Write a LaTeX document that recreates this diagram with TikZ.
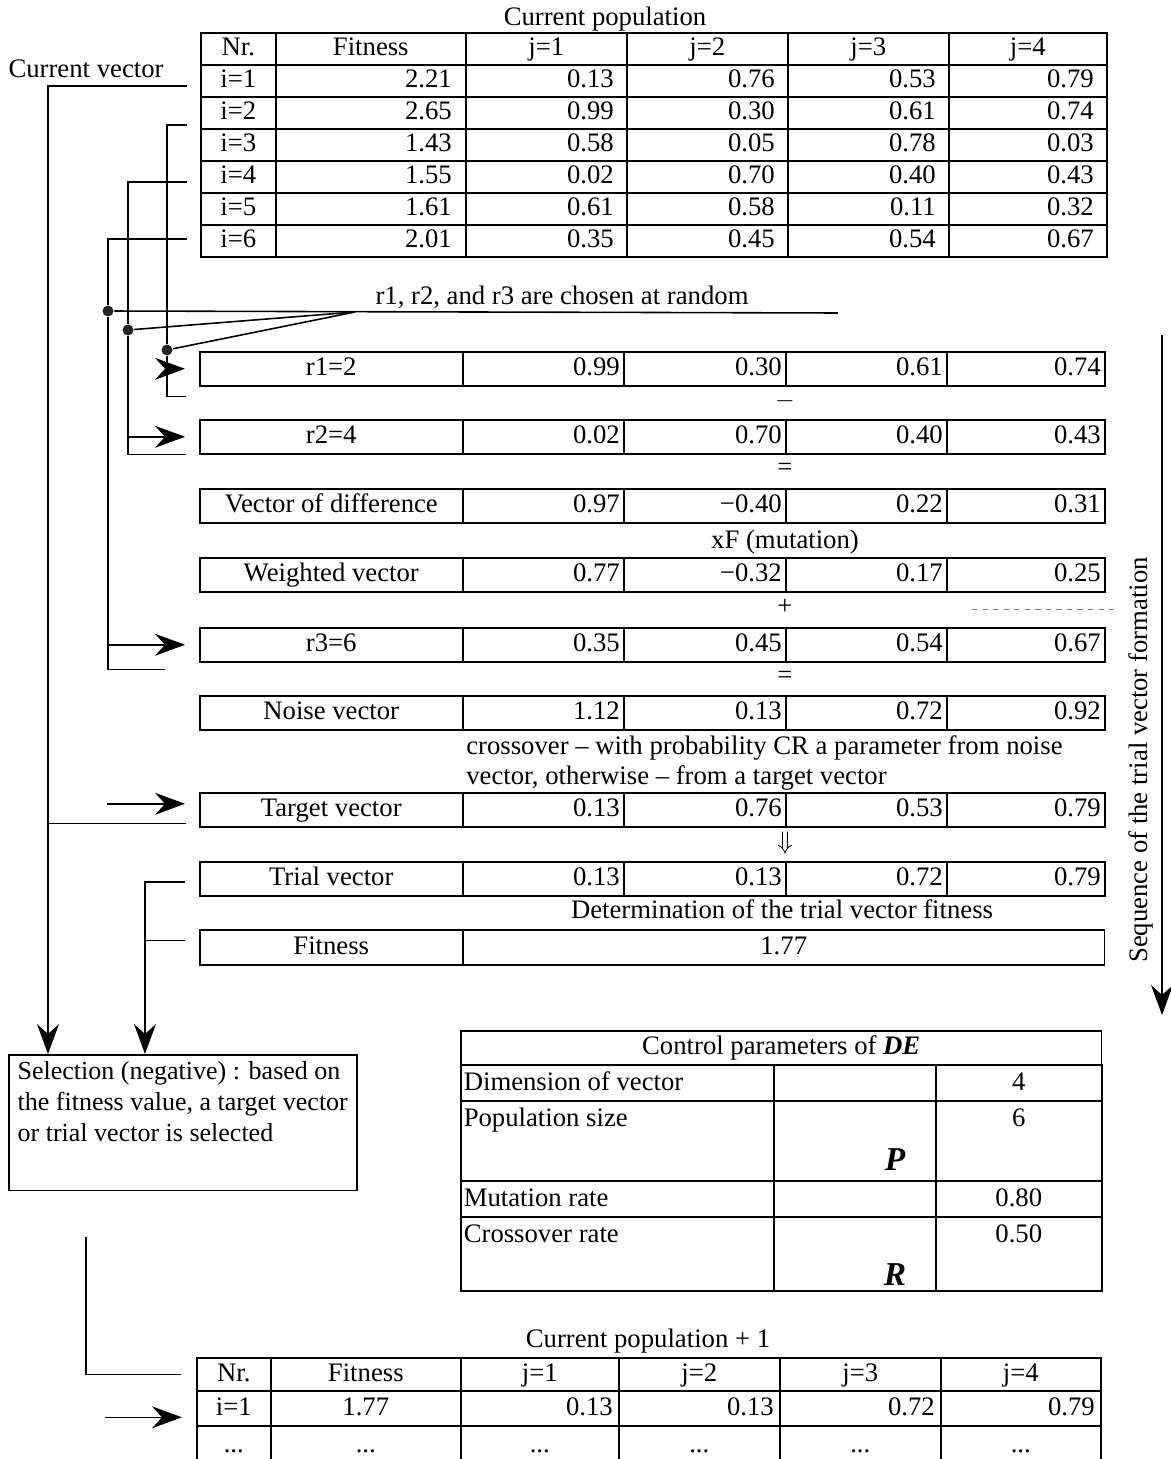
\documentclass[tikz,border=0pt]{standalone}
\usepackage{fontspec}
\setmainfont{Liberation Serif}
\usepackage{tikz}
\usetikzlibrary{arrows.meta, positioning, calc}
\tikzset{
	cell/.style   ={draw, rectangle, anchor=north west, inner xsep=0pt, inner ysep=0pt, text height=10.6pt, text depth=2.6pt},
	numcell/.style={cell, align=right},
	txt/.style    ={inner sep=1pt, text height=10.6pt, text depth=2.6pt},
	wire/.style   ={line width=0.9pt},
	arr/.style    ={wire, -{Stealth[length=0.6cm, width=0.44cm, inset=0.2cm]}},
	dot/.style    ={circle, fill=black!85, inner sep=0pt, minimum size=0.22cm},
	symb/.style   ={inner sep=1pt, font=\fontsize{19}{20}\selectfont\bfseries\itshape},
}
% one row of the trial vector sequence: name, top, label, four values
\newcommand{\vecrow}[7]{%
	\node[cell, minimum width=5.26cm, minimum height=0.68cm] (#1) at (199,#2) {#3};
	\foreach \cv/\xx/\tw [count=\j] in {#4/462/3.06, #5/623/3.08, #6/785/3.06, #7/946/3.00}
		\node[numcell, text width=\tw cm, inner xsep=0.08cm, minimum height=0.68cm] (#1-\j) at (\xx,#2) {\cv};
}

\begin{document}
\begin{tikzpicture}[x=0.02cm, y=-0.02cm, line width=0.9pt, font=\fontsize{15.2}{17.6}\selectfont]
	\useasboundingbox (0,0) rectangle (1170,1459);

	% current population
	\node[txt] (poptitle) at (605,18) {Current population};
	\foreach \t/\xx/\ww [count=\k] in {Nr./200/75, Fitness/275/190, j=1/465/161, j=2/626/161, j=3/787/161, j=4/948/158}
		\node[cell, minimum width=\ww*0.02cm, minimum height=0.64cm] (hd\k) at (\xx,32) {\t};
	\foreach \fv/\ua/\ub/\uc/\ud [count=\i] in {2.21/0.13/0.76/0.53/0.79, 2.65/0.99/0.30/0.61/0.74, 1.43/0.58/0.05/0.78/0.03,
			1.55/0.02/0.70/0.40/0.43, 1.61/0.61/0.58/0.11/0.32, 2.01/0.35/0.45/0.54/0.67}{
		\pgfmathsetmacro\yy{32+32*\i}
		\node[cell, minimum width=1.5cm, minimum height=0.64cm] (n\i) at (200,\yy) {i=\i};
		\node[numcell, text width=3.24cm, inner xsep=0.28cm, minimum height=0.64cm] (f\i) at (275,\yy) {\fv};
		\foreach \cv/\xx/\tw [count=\j] in {\ua/465/2.70, \ub/626/2.70, \uc/787/2.70, \ud/948/2.64}
			\node[numcell, text width=\tw cm, inner xsep=0.26cm, minimum height=0.64cm] (p\i-\j) at (\xx,\yy) {\cv};
	}
	\node[txt, anchor=west] (curvec) at (6,70) {Current vector};

	% random choice
	\node[txt] (rnd) at (562,297) {r1, r2, and r3 are chosen at random};
	\node[dot] (dot1) at (108,311) {};
	\node[dot] (dot2) at (128,330) {};
	\node[dot] (dot3) at (167,350) {};
	\coordinate (fan) at (355,312);
	\coordinate (rndend) at (838,313);
	\draw[wire] (dot1) -- (rndend);
	\draw[wire] (dot2) -- (fan);
	\draw[wire] (dot3) -- (fan);

	% trial vector formation
	\vecrow{r1}{351}{r1=2}{0.99}{0.30}{0.61}{0.74}
	\node[txt] (opminus) at (785,400) {$-$};
	\vecrow{r2}{419}{r2=4}{0.02}{0.70}{0.40}{0.43}
	\node[txt] (opeq1) at (785,468) {=};
	\vecrow{dif}{488}{Vector of difference}{0.97}{−0.40}{0.22}{0.31}
	\node[txt] (opmut) at (785,541) {xF (mutation)};
	\vecrow{wgt}{557}{Weighted vector}{0.77}{−0.32}{0.17}{0.25}
	\node[txt] (opplus) at (785,607) {+};
	\vecrow{r3}{627}{r3=6}{0.35}{0.45}{0.54}{0.67}
	\node[txt] (opeq2) at (785,676) {=};
	\vecrow{noise}{695}{Noise vector}{1.12}{0.13}{0.72}{0.92}
	\node[anchor=west, inner sep=2pt, align=left] (cross) at (462,763)
		{crossover – with probability CR a parameter from noise\\vector, otherwise – from a target vector};
	\vecrow{tgt}{792}{Target vector}{0.13}{0.76}{0.53}{0.79}
	\node[txt] (opdown) at (785,842) {$\Downarrow$};
	\vecrow{trial}{861}{Trial vector}{0.13}{0.13}{0.72}{0.79}
	\node[txt] (detfit) at (782,911) {Determination of the trial vector fitness};
	\node[cell, minimum width=5.26cm, minimum height=0.7cm] (fit) at (199,929) {Fitness};
	\node[cell, minimum width=12.84cm, minimum height=0.7cm] (fitval) at (462,929) {1.77};
	\draw[gray, dashed, line width=0.5pt] (972,609) -- (1117,609);

	% sequence arrow
	\node[txt, rotate=90] (seqtext) at (1140,760) {Sequence of the trial vector formation};
	\coordinate (seqtop) at (1162,335);
	\coordinate (seqend) at (1162,1015);
	\draw[arr] (seqtop) -- (seqend);

	% selection
	\node[draw, anchor=north west, minimum width=6.96cm, inner xsep=0.08cm, inner ysep=0.14cm, align=left, text depth=0.84cm,
		font=\fontsize{14.8}{17.6}\selectfont] (sel) at (8,1054)
		{Selection (negative) : based on\\the fitness value, a target vector\\or trial vector is selected};
	\coordinate (selin1) at ([xshift=0.8cm]sel.north west);
	\coordinate (selin2) at ([xshift=2.74cm]sel.north west);

	% control parameters
	\node[cell, minimum width=12.82cm, minimum height=0.68cm] (cptitle) at (460,1030) {Control parameters of \textbf{\textit{DE}}};
	\foreach \nm/\val/\yy/\hh [count=\k] in {Dimension of vector/4/1064/36, Population size/6/1100/80, Mutation rate/0.80/1180/36, Crossover rate/0.50/1216/74}{
		\node[cell, minimum width=6.26cm, minimum height=\hh*0.02cm] (cpa\k) at (460,\yy) {};
		\node[cell, minimum width=3.24cm, minimum height=\hh*0.02cm] (cpb\k) at (773,\yy) {};
		\node[cell, minimum width=3.32cm, minimum height=\hh*0.02cm] (cpc\k) at (935,\yy) {};
		\node[txt, anchor=north west, inner xsep=0.06cm, inner ysep=0.14cm] (cpn\k) at (cpa\k.north west) {\nm};
		\node[txt, anchor=north, inner ysep=0.14cm] (cpv\k) at (cpc\k.north) {\val};
	}
	\node[symb] (symP) at (895,1160) {P};
	\node[symb] (symR) at (895,1275) {R};

	% current population + 1
	\node[txt] (newtitle) at (648,1340) {Current population + 1};
	\foreach \t/\xx/\ww [count=\k] in {Nr./196/74, Fitness/270/190, j=1/460/158, j=2/618/161, j=3/779/161, j=4/940/160}{
		\node[cell, minimum width=\ww*0.02cm, minimum height=0.66cm] (bh\k) at (\xx,1357) {\t};
		\node[cell, minimum width=\ww*0.02cm, minimum height=0.8cm] (bd\k) at (\xx,1425) {...};
	}
	\node[cell, minimum width=1.48cm, minimum height=0.7cm] (b1) at (196,1390) {i=1};
	\node[cell, minimum width=3.8cm, minimum height=0.7cm] (bf1) at (270,1390) {1.77};
	\foreach \cv/\xx/\tw [count=\j] in {0.13/460/2.92, 0.13/618/2.98, 0.72/779/2.98, 0.79/940/2.96}
		\node[numcell, text width=\tw cm, inner xsep=0.12cm, minimum height=0.7cm] (bp\j) at (\xx,1390) {\cv};

	% connectors
	\draw[arr] ([xshift=-0.26cm,yshift=-0.1cm]n1.west) -| (selin1);
	\draw[wire] ([xshift=-0.26cm,yshift=-0.24cm]n2.west) -| (dot3) |- ([xshift=-0.26cm,yshift=-0.2cm]r1.south west);
	\draw[arr] (dot3 |- r1.west) -- ([xshift=-0.28cm]r1.west);
	\draw[wire] ([xshift=-0.26cm,yshift=-0.1cm]n4.west) -| (dot2) |- ([xshift=-0.26cm]r2.south west);
	\draw[arr] (dot2 |- r2.west) -- ([xshift=-0.28cm]r2.west);
	\draw[wire] ([xshift=-0.26cm,yshift=0.04cm]n6.west) -| (dot1) |- ([xshift=-0.68cm,yshift=-0.14cm]r3.south west);
	\draw[arr] (dot1 |- r3.west) -- ([xshift=-0.28cm]r3.west);
	\coordinate (tgtin) at ([xshift=-1.84cm,yshift=0.12cm]tgt.west);
	\draw[arr] (tgtin) -- ([xshift=-0.28cm,yshift=0.12cm]tgt.west);
	\coordinate (tgtout) at ([xshift=-0.26cm,yshift=0.08cm]tgt.south west);
	\draw[wire] (tgtout) -- (tgtout -| selin1);
	\draw[arr] ([xshift=-0.28cm,yshift=-0.06cm]trial.west) -| (selin2);
	\coordinate (fitout) at ([xshift=-0.28cm,yshift=0.14cm]fit.west);
	\draw[wire] (fitout) -- (fitout -| selin2);
	\coordinate (selout) at ([xshift=1.56cm,yshift=-0.92cm]sel.south west);
	\draw[wire] (selout) |- ([xshift=-0.3cm]bh1.west);
	\coordinate (newin) at ([xshift=-1.82cm,yshift=-0.18cm]b1.west);
	\draw[arr] (newin) -- ([xshift=-0.28cm,yshift=-0.18cm]b1.west);
\end{tikzpicture}
\end{document}
